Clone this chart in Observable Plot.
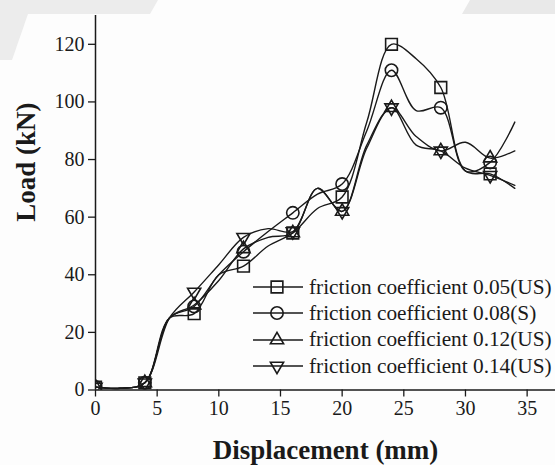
<!DOCTYPE html>
<html><head><meta charset="utf-8">
<script src="https://cdn.jsdelivr.net/npm/d3@7"></script>
<script src="https://cdn.jsdelivr.net/npm/@observablehq/plot@0.6"></script>
<style>
body{margin:0;background:#fff;}
#wrap{position:relative;width:555px;height:465px;font-family:"Liberation Serif","Times New Roman",serif;background:#fdfdfd;}
#wrap svg text{font-family:"Liberation Serif","Times New Roman",serif !important;}
#wrap g[aria-label$="axis tick"] path{stroke-width:1.3px;}
#bg{position:absolute;left:0;top:0;}
#legend{position:absolute;left:253px;top:274px;font-size:21.3px;color:#1a1a1a;}
.row{display:flex;align-items:center;height:26.3px;white-space:nowrap;}
.row svg{display:block;}
</style></head><body><div id="wrap">
<svg id="bg" width="555" height="465"><polygon points="0,0 158,0 150,14 28,14 12,60 0,60" fill="#ececec"/><polygon points="462,14 470,0 555,0 555,14" fill="#e9e9e9"/></svg>
<div id="legend"></div></div>
<script>
// Displacement (mm) sample points
const displacement = [0, 2, 4, 6, 8, 10, 12, 14, 16, 18, 20, 22, 24, 26, 28, 30, 32, 34];
// Load (kN) per friction coefficient
const load005 = [1, 0.6, 2.5, 25, 26.5, 40, 43, 50, 54.5, 63, 67, 93, 120, 115, 105, 76, 75, 70];
const load008 = [1, 0.6, 2.5, 25, 29, 40, 48, 55, 61.5, 68, 71.5, 90, 111, 97, 98, 76, 79, 93];
const load012 = [1, 0.6, 2.5, 25, 29.5, 38, 49, 53, 54.5, 70, 62, 84, 98, 88, 83, 86, 80.5, 83];
const load014 = [1, 0.6, 2.5, 25, 34, 43.5, 53, 56, 55, 70, 62, 85, 98, 85, 83, 77, 74.5, 71];
const seriesNames = ["friction coefficient 0.05(US)", "friction coefficient 0.08(S)", "friction coefficient 0.12(US)", "friction coefficient 0.14(US)"];
const xTicks = [0, 5, 10, 15, 20, 25, 30, 35];
const yTicks = [0, 20, 40, 60, 80, 100, 120];
const xLabel = "Displacement (mm)";
const yLabel = "Load (kN)";

const triangleDown = {
  draw(context, size) {
    const y = -Math.sqrt(size / (Math.sqrt(3) * 3));
    const s = Math.sqrt(3);
    context.moveTo(0, -y * 2);
    context.lineTo(-s * y, y);
    context.lineTo(s * y, y);
    context.closePath();
  }
};
const symbols = ["square", "circle", "triangle", triangleDown];
const d3symbols = [d3.symbolSquare, d3.symbolCircle, d3.symbolTriangle, triangleDown];
const radii = [6.6, 6.2, 4.9, 4.9];
const allLoads = [load005, load008, load012, load014];

const data = [];
allLoads.forEach((arr, i) => arr.forEach((v, j) => data.push({x: displacement[j], y: v, s: seriesNames[i], i})));

const ink = "#1a1a1a";
const serif = "Liberation Serif";
const marks = [
  Plot.line(data, {x: "x", y: "y", z: "s", curve: "catmull-rom", stroke: ink, strokeWidth: 1.4, clip: true}),
  ...allLoads.map((arr, i) => Plot.dot(data.filter(d => d.i === i && d.x % 4 === 0), {
    x: "x", y: "y", symbol: () => symbols[i], r: radii[i], stroke: ink, strokeWidth: 1.6, fill: "none", clip: true
  })),
  Plot.ruleX([0], {stroke: ink, strokeWidth: 1.5}),
  Plot.ruleY([0], {stroke: ink, strokeWidth: 1.5}),
  Plot.axisX({ticks: xTicks, tickSize: 7, tickPadding: 4, label: null, fontSize: 20}),
  Plot.axisY({ticks: yTicks, tickSize: 7, tickPadding: 4, label: null, fontSize: 20}),
  Plot.text([xLabel], {frameAnchor: "bottom", dy: 60, text: d => d, fontSize: 27, fontWeight: "bold", fill: ink, lineAnchor: "middle"}),
  Plot.text([yLabel], {frameAnchor: "left", dx: -69, dy: 19, rotate: -90, text: d => d, fontSize: 27, fontWeight: "bold", fill: ink, lineAnchor: "middle"})
];

const chart = Plot.plot({
  width: 555,
  height: 465,
  marginLeft: 95,
  marginRight: 0,
  marginTop: 15,
  marginBottom: 75.5,
  style: {fontFamily: serif, background: "transparent", color: ink, position: "relative"},
  x: {domain: [0, 37.3]},
  y: {domain: [0, 130]},
  marks
});
const wrap = document.getElementById("wrap");
wrap.insertBefore(chart, document.getElementById("legend"));

const legend = document.getElementById("legend");
seriesNames.forEach((name, i) => {
  const row = document.createElement("div");
  row.className = "row";
  const svg = d3.create("svg").attr("width", 56).attr("height", 26);
  svg.append("line").attr("x1", 0).attr("x2", 50).attr("y1", 13).attr("y2", 13).attr("stroke", ink).attr("stroke-width", 1.4);
  svg.append("path").attr("transform", "translate(24,13)")
    .attr("d", d3.symbol(d3symbols[i], Math.PI * radii[i] * radii[i])())
    .attr("fill", "none").attr("stroke", ink).attr("stroke-width", 1.6);
  row.appendChild(svg.node());
  const span = document.createElement("span");
  span.textContent = name;
  row.appendChild(span);
  legend.appendChild(row);
});
</script>
</body></html>
